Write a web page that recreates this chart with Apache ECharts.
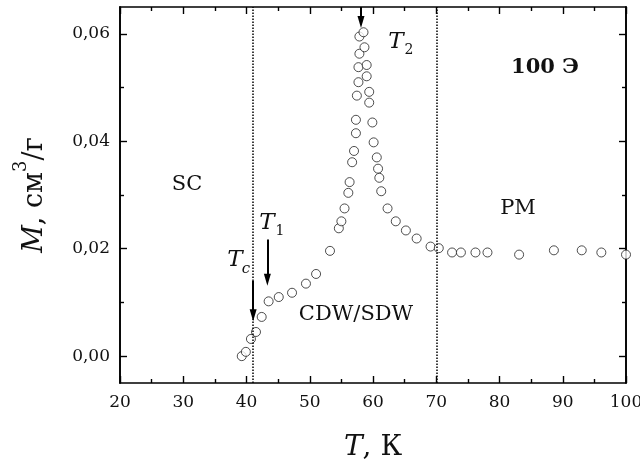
<!DOCTYPE html>
<html>
<head>
<meta charset="utf-8">
<script src="https://cdn.jsdelivr.net/npm/echarts@6/dist/echarts.min.js"></script>
<style>
html,body{margin:0;padding:0;background:#fff;}
#c{width:640px;height:463px;}
</style>
</head>
<body>
<div id="c"></div>
<script>
// Temperature, K
const T = [39.25, 39.9, 40.7, 41.5, 42.4, 43.5, 45.1, 47.2, 49.4, 51.0,
  53.2, 54.6, 55.0, 55.5, 56.1, 56.3, 56.7, 57.0, 57.3, 57.3,
  57.45, 57.7, 57.7, 57.85, 57.85, 58.5, 58.65, 59.0, 59.0, 59.4,
  59.4, 59.9, 60.1, 60.6, 60.8, 61.0, 61.3, 62.3, 63.6, 65.2,
  66.9, 69.1, 70.4, 72.5, 73.9, 76.2, 78.1, 83.1, 88.6, 93.0,
  96.1, 100.0];
// Magnetization, cm^3/g
const M = [0.0000, 0.0008, 0.0032, 0.0045, 0.0073, 0.0102, 0.0110, 0.0118, 0.0135, 0.0153,
  0.0196, 0.0238, 0.0251, 0.0275, 0.0304, 0.0324, 0.0361, 0.0382, 0.0415, 0.0440,
  0.0485, 0.0510, 0.0538, 0.0563, 0.0595, 0.0603, 0.0575, 0.0542, 0.0521, 0.0492,
  0.0472, 0.0435, 0.0398, 0.0370, 0.0349, 0.0332, 0.0307, 0.0275, 0.0251, 0.0234,
  0.0219, 0.0204, 0.0201, 0.0193, 0.0193, 0.0193, 0.0193, 0.0189, 0.0197, 0.0197,
  0.0193, 0.0189];

const yMajorTicks = [0, 0.02, 0.04, 0.06];
const yMinorTicks = [0.01, 0.03, 0.05];
const phaseLines = [41.05, 70];           // dotted boundaries
// arrows: [T, from M, to M]
const arrowTc = [41.05, 0.0140, 0.0076];
const arrowT1 = [43.3, 0.0217, 0.0142];
const arrowT2 = [58.1, 0.0650, 0.0622];

const FONT = 'DejaVu Serif';
const chart = echarts.init(document.getElementById('c'), null, {renderer: 'canvas'});

const lineCol = '#000';
function xAx(pos, showLabel) {
  return {
    type: 'value', position: pos, min: 20, max: 100, interval: 10,
    axisLine: {show: true, onZero: false, lineStyle: {color: lineCol, width: 1.6}},
    axisTick: {show: true, inside: true, length: 7, lineStyle: {color: lineCol, width: 1.4}},
    minorTick: {show: true, splitNumber: 2, length: 4, lineStyle: {color: lineCol, width: 1.4}},
    splitLine: {show: false},
    axisLabel: {show: showLabel, margin: 11, color: '#111', fontFamily: FONT, fontSize: 17},
    name: showLabel ? '{i|T}{n|, К}' : '',
    nameLocation: 'middle', nameGap: 50,
    nameTextStyle: {
      rich: {
        i: {fontFamily: FONT, fontSize: 28, fontStyle: 'italic', color: '#111', lineHeight: 30},
        n: {fontFamily: FONT, fontSize: 28, color: '#111', lineHeight: 30}
      }
    }
  };
}
function yAx(pos, ticks, len, showLabel, name) {
  return {
    type: 'value', position: pos, min: -0.005, max: 0.065, offset: 0,
    axisLine: {show: true, onZero: false, lineStyle: {color: lineCol, width: 1.6}},
    axisTick: {show: true, inside: true, length: len, customValues: ticks, lineStyle: {color: lineCol, width: 1.4}},
    splitLine: {show: false},
    axisLabel: {show: showLabel, customValues: ticks, margin: 10, color: '#111', fontFamily: FONT, fontSize: 17,
      formatter: v => v.toFixed(2).replace('.', ',')},
    name: name || '',
    nameLocation: 'middle', nameRotate: 90, nameGap: 62,
    nameTextStyle: {
      rich: {
        i: {fontFamily: FONT, fontSize: 27, fontStyle: 'italic', color: '#111', lineHeight: 46},
        n: {fontFamily: FONT, fontSize: 27, color: '#111', lineHeight: 46},
        s: {fontFamily: FONT, fontSize: 18, color: '#111', lineHeight: 18, verticalAlign: 'top'}
      }
    }
  };
}

function arrow(a) {
  return [
    {coord: [a[0], a[1]], symbol: 'none', lineStyle: {type: 'solid', width: 2, color: '#000'}},
    {coord: [a[0], a[2]], symbol: 'triangle', symbolSize: [7, 12], lineStyle: {type: 'solid', width: 2, color: '#000'}}
  ];
}

const option = {
  animation: false,
  backgroundColor: '#fff',
  grid: {left: 120, right: 14, top: 7, bottom: 80, containLabel: false, outerBoundsMode: 'none'},
  xAxis: [xAx('bottom', true), xAx('top', false)],
  yAxis: [
    yAx('left', yMajorTicks, 7, true, '{i|M}{n|, см}{s|3}{n|/г}'),
    yAx('left', yMinorTicks, 4, false),
    yAx('right', yMajorTicks, 7, false),
    yAx('right', yMinorTicks, 4, false)
  ],
  series: [{
    type: 'scatter',
    xAxisIndex: 0, yAxisIndex: 0,
    data: T.map((t, i) => [t, M[i]]),
    symbol: 'circle', symbolSize: 9,
    itemStyle: {color: '#fff', borderColor: '#222', borderWidth: 1},
    emphasis: {disabled: true},
    silent: true,
    clip: false,
    markLine: {
      silent: true, animation: false,
      symbol: ['none', 'none'],
      label: {show: false},
      lineStyle: {type: 'dotted', color: '#000', width: 1.5},
      data: [
        {xAxis: phaseLines[0]},
        {xAxis: phaseLines[1]},
        arrow(arrowTc), arrow(arrowT1), arrow(arrowT2)
      ]
    }
  }],
  graphic: [
    {type: 'text', x: 187, y: 185, style: {text: 'SC', font: '21px "DejaVu Serif"', fill: '#111', align: 'center', verticalAlign: 'middle'}},
    {type: 'text', x: 518, y: 209, style: {text: 'PM', font: '21px "DejaVu Serif"', fill: '#111', align: 'center', verticalAlign: 'middle'}},
    {type: 'text', x: 356, y: 315, style: {text: 'CDW/SDW', font: '21px "DejaVu Serif"', fill: '#111', align: 'center', verticalAlign: 'middle'}},
    {type: 'text', x: 545, y: 68, style: {text: '100 Э', font: 'bold 21px "DejaVu Serif"', fill: '#111', align: 'center', verticalAlign: 'middle'}},
    {type: 'text', x: 396, y: 42, style: {text: 'T', font: 'italic 23px "DejaVu Serif"', fill: '#111', align: 'center', verticalAlign: 'middle'}},
    {type: 'text', x: 409, y: 50, style: {text: '2', font: '14px "DejaVu Serif"', fill: '#111', align: 'center', verticalAlign: 'middle'}},
    {type: 'text', x: 267, y: 223, style: {text: 'T', font: 'italic 23px "DejaVu Serif"', fill: '#111', align: 'center', verticalAlign: 'middle'}},
    {type: 'text', x: 280, y: 231, style: {text: '1', font: '14px "DejaVu Serif"', fill: '#111', align: 'center', verticalAlign: 'middle'}},
    {type: 'text', x: 235, y: 260, style: {text: 'T', font: 'italic 23px "DejaVu Serif"', fill: '#111', align: 'center', verticalAlign: 'middle'}},
    {type: 'text', x: 246, y: 269, style: {text: 'c', font: 'italic 15px "DejaVu Serif"', fill: '#111', align: 'center', verticalAlign: 'middle'}}
  ]
};
chart.setOption(option);
</script>
</body>
</html>
